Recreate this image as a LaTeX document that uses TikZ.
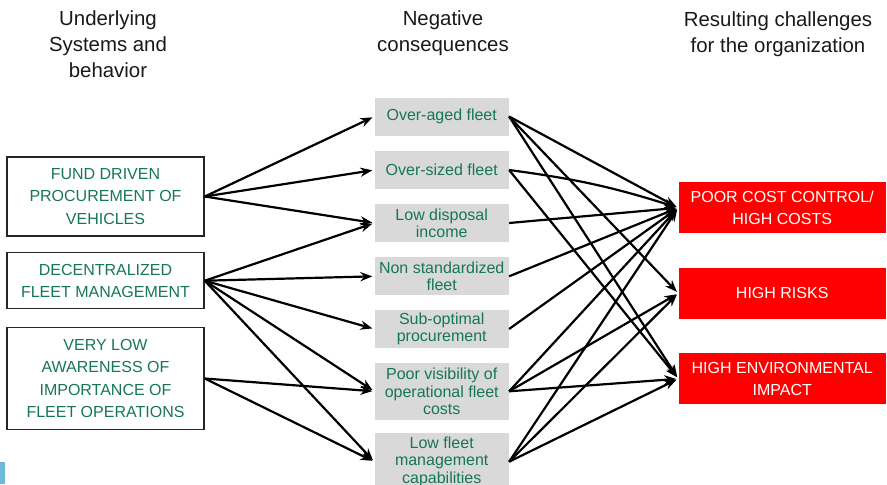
\documentclass[tikz,border=0pt]{standalone}
\usepackage{fontspec}
\setmainfont{Liberation Sans}
\usetikzlibrary{arrows.meta}
\definecolor{causegreen}{RGB}{22,118,88}
\definecolor{boxgray}{RGB}{217,217,217}
\definecolor{alertred}{RGB}{255,0,0}
\definecolor{edgeblue}{RGB}{110,185,215}
\begin{document}
\begin{tikzpicture}[>={Stealth[length=6pt,width=4.6pt]},x=0.5pt,y=-0.5pt]
      \tikzset{cause/.style={draw=black!85, line width=0.75pt, text=causegreen, font=\fontsize{8}{11.2}\selectfont, align=center, minimum width=98.5pt, inner sep=0pt},
        effect/.style={fill=boxgray, text=causegreen, font=\fontsize{8}{8.6}\selectfont, align=center, minimum width=67pt, minimum height=19pt, inner sep=0pt},
        challenge/.style={fill=alertred, text=white, font=\fontsize{8}{10.8}\selectfont, align=center, minimum width=103.5pt, minimum height=25.5pt, inner sep=0pt},
        head/.style={font=\fontsize{10.2}{13}\selectfont, align=center, text=black!90},
        link/.style={->, line width=1.1pt, shorten >=1pt}}
      \clip (0,0) rectangle (887,484);
      \fill[edgeblue] (0,462) rectangle (5,484);
      % column titles
      \node[head] (hcause) at (108,44.5) {Underlying\\Systems and\\behavior};
      \node[head] (heffect) at (443,33.5) {Negative\\consequences};
      \node[head] (hchallenge) at (778,34) {Resulting challenges\\for the organization};
      % underlying systems
      \node[cause, minimum height=39.5pt] (fund) at (105.5,196.5) {FUND DRIVEN\\PROCUREMENT OF\\VEHICLES};
      \node[cause, minimum height=28pt] (decentral) at (105.5,280.7) {DECENTRALIZED\\FLEET MANAGEMENT};
      \node[cause, minimum height=50.8pt] (awareness) at (105.5,378.5) {VERY LOW\\AWARENESS OF\\IMPORTANCE OF\\FLEET OPERATIONS};
      % negative consequences
      \node[effect] (overaged) at (441.7,116.5) {Over-aged fleet};
      \node[effect] (oversized) at (441.7,170) {Over-sized fleet};
      \node[effect] (disposal) at (441.7,223) {Low disposal\\income};
      \node[effect] (nonstd) at (441.7,276.3) {Non standardized\\fleet};
      \node[effect] (suboptimal) at (441.7,329) {Sub-optimal\\procurement};
      \node[effect, minimum height=28.7pt] (visibility) at (441.7,391.3) {Poor visibility of\\operational fleet\\costs};
      \node[effect, minimum height=28.7pt] (capability) at (441.7,461.7) {Low fleet\\management\\capabilities};
      % challenges
      \node[challenge] (costs) at (782.2,207.8) {POOR COST CONTROL/\\HIGH COSTS};
      \node[challenge] (risks) at (782.2,293.3) {HIGH RISKS};
      \node[challenge] (impact) at (782.2,378.8) {HIGH ENVIRONMENTAL\\IMPACT};
      % causes to consequences
      \foreach \a/\b in {fund/overaged, fund/oversized, fund/disposal,
          decentral/disposal, decentral/nonstd, decentral/suboptimal, decentral/visibility, decentral/capability,
          awareness/visibility, awareness/capability}
        \draw[link] (\a.east) -- (\b.west);
      % consequences to challenges
      \foreach \a/\b in {overaged/costs, overaged/risks, overaged/impact, oversized/impact,
          disposal/costs, nonstd/costs, suboptimal/costs,
          visibility/costs, visibility/risks, visibility/impact,
          capability/costs, capability/risks, capability/impact}
        \draw[link] (\a.east) -- (\b.west);
      \draw[link] (oversized.east) to[bend left=5] (costs.west);
    \end{tikzpicture}
\end{document}
